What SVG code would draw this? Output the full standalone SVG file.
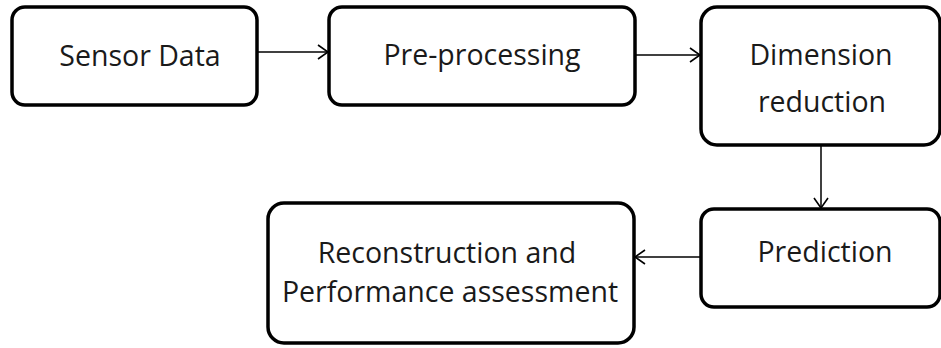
<svg xmlns="http://www.w3.org/2000/svg" width="941" height="348" viewBox="0 0 941 348">
<style>
.box{fill:#fff;stroke:#000;stroke-width:3.5}
.lbl{font-family:"Open Sans","Noto Sans",sans-serif;font-size:28.5px;fill:#1a1a1a;text-anchor:middle}
.con{stroke:#000;stroke-width:1.5;fill:none}
</style>
<defs>
<marker id="arr" viewBox="0 0 12 16" refX="11" refY="8" markerWidth="12" markerHeight="16" markerUnits="userSpaceOnUse" orient="auto">
<path d="M1,1 L11,8 L1,15" fill="none" stroke="#000" stroke-width="1.6"/>
</marker>
</defs>
<rect width="941" height="348" fill="#fff"/>
<g id="connectors">
<line class="con" x1="257" y1="52" x2="328" y2="52" marker-end="url(#arr)"/>
<line class="con" x1="635" y1="55" x2="700" y2="55" marker-end="url(#arr)"/>
<line class="con" x1="821" y1="145" x2="821" y2="208" marker-end="url(#arr)"/>
<line class="con" x1="701" y1="257" x2="635" y2="257" marker-end="url(#arr)"/>
</g>
<g id="sensor-data">
<rect class="box" x="12" y="7" width="245" height="98" rx="13"/>
<text class="lbl" x="140" y="66">Sensor Data</text>
</g>
<g id="pre-processing">
<rect class="box" x="329" y="7" width="306" height="98" rx="13"/>
<text class="lbl" x="482" y="65">Pre-processing</text>
</g>
<g id="dimension-reduction">
<rect class="box" x="701" y="7" width="239" height="138" rx="16"/>
<text class="lbl" x="821" y="65">Dimension</text>
<text class="lbl" x="822" y="112">reduction</text>
</g>
<g id="prediction">
<rect class="box" x="701" y="209" width="239" height="98" rx="13"/>
<text class="lbl" x="825" y="262">Prediction</text>
</g>
<g id="reconstruction">
<rect class="box" x="268" y="203" width="366" height="140" rx="16"/>
<text class="lbl" x="447" y="263">Reconstruction and</text>
<text class="lbl" x="450" y="302">Performance assessment</text>
</g>
</svg>
